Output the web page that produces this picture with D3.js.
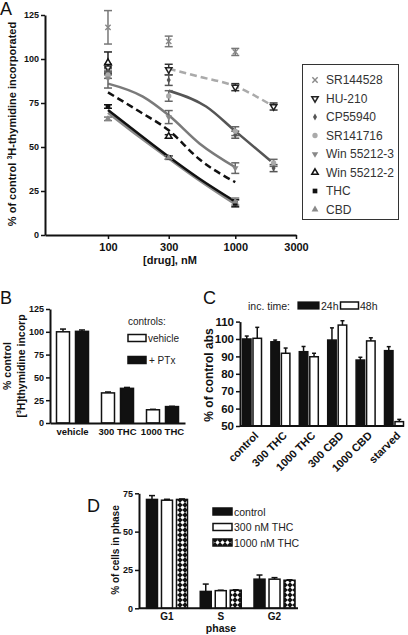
<!DOCTYPE html>
<html><head><meta charset="utf-8">
<script src="https://cdn.jsdelivr.net/npm/d3@7"></script>
<style>body{margin:0;background:#fff} svg{display:block} text{font-family:Arial,"Liberation Sans",sans-serif}</style>
</head><body><svg id="c" width="408" height="635"></svg>
<script>
// ---------- Panel A data ----------
const aNames = ["SR144528","HU-210","CP55940","SR141716","Win 55212-3","Win 55212-2","THC","CBD"];
const aXTicks = [100,300,1000,3000];
const aYTicks = [0,25,50,75,100,125];
const srDose=[100,300,1000], srVal=[118,110,104], srErr=[9.5,3,2];
const huDose=[100,300,1000,2000], huVal=[95,94,84,73], huErr=[2,3,2,2];
const cpDose=[100,300,1000,2000], cpVal=[93,88,57,38], cpErr=[2,3,2,2];
const s17Dose=[100,300,1000,2000], s17Val=[91,79,59,41], s17Err=[2,3,2.5,2];
const w3Dose=[100,300,1000], w3Val=[89,67,38], w3Err=[5.5,3.7,3];
const w2Dose=[100,300], w2Val=[98,56], w2Err=[6,1];
const thcDose=[100,300,1000], thcVal=[73,44,18], thcErr=[1,1,2];
const cbdDose=[100,300,1000], cbdVal=[66,44,19], cbdErr=[1,1,2];
// fitted curves [dose, value]
const huCurve=[[300,94.5],[520,90],[1000,84.5],[1900,74]];
const s17Curve=[[300,82],[590,73],[1000,59],[1900,42]];
const w3Curve=[[100,86],[188,78.6],[300,68],[523,52],[1000,38.5]];
const w2Curve=[[100,81],[178,70],[300,59.5],[523,43],[1000,30]];
const thcCurve=[[100,71],[178,57],[300,44.5],[523,32],[1000,19]];
const cbdCurve=[[100,69.5],[178,55.5],[300,43.5],[523,31],[1000,17.5]];

// ---------- Panel B data ----------
const bCats=["vehicle","300 THC","1000 THC"];
const bSeries=["vehicle","+ PTx"];
const bVeh=[100,33,14.5], bVehErr=[3,1,0.5];
const bPtx=[100.5,38,18], bPtxErr=[1.5,1,0.3];
const bYTicks=[0,25,50,75,100,125];

// ---------- Panel C data ----------
const cCats=["control","300 THC","1000 THC","300 CBD","1000 CBD","starved"];
const cSeries=["24h","48h"];
const c24=[100,98.4,92.7,99.4,87.9,93.3], c24Err=[1.7,1,3,7,1.6,2.3];
const c48=[100.4,91.8,89.8,108,98.9,52.5], c48Err=[6.3,3,2,2.5,1.8,1.3];
const cYTicks=[50,60,70,80,90,100,110];

// ---------- Panel D data ----------
const dCats=["G1","S","G2"];
const dSeries=["control","300 nM THC","1000 nM THC"];
const dCtrl=[71,11,19], dCtrlErr=[2.5,4.8,2.7];
const d300=[70.5,11.5,19], d300Err=[0.6,0.3,1];
const d1000=[71,11.8,18.3], d1000Err=[0.3,0.3,0.3];
const dYTicks=[0,25,50,75];

const svg=d3.select("#c");
const defs=svg.append("defs");
const pat=defs.append("pattern").attr("id","chk").attr("patternUnits","userSpaceOnUse").attr("width",5).attr("height",5);
pat.append("rect").attr("width",5).attr("height",5).attr("fill","#111");
pat.append("path").attr("d","M2.5,0.3L4.7,2.5L2.5,4.7L0.3,2.5Z").attr("fill","#fff");

function styleAxis(g,fs){
  g.select(".domain").attr("stroke","#111").attr("stroke-width",2);
  g.selectAll(".tick line").attr("stroke","#111").attr("stroke-width",1.5);
  g.selectAll(".tick text").attr("font-size",fs).attr("font-weight","bold").attr("fill","#111").attr("font-family","Arial, 'Liberation Sans', sans-serif");
}
function panelLabel(t,x,y){svg.append("text").attr("x",x).attr("y",y).attr("font-size",18).attr("fill","#111").text(t);}

// ================= Panel A =================
const xA=d3.scaleLog().domain([32,3000]).range([45,296]);
const yA=d3.scaleLinear().domain([0,125]).range([235,15]);
const gAy=svg.append("g").attr("transform","translate(45,0)").call(d3.axisLeft(yA).tickValues(aYTicks).tickSize(4).tickSizeOuter(0).tickPadding(2));
styleAxis(gAy,9);
const gAx=svg.append("g").attr("transform","translate(0,235)").call(d3.axisBottom(xA).tickValues(aXTicks).tickFormat(d3.format("d")).tickSize(4).tickSizeOuter(0).tickPadding(4));
styleAxis(gAx,11);
panelLabel("A",0,15);
svg.append("text").attr("x",170).attr("y",264).attr("text-anchor","middle").attr("font-size",11).attr("font-weight","bold").attr("fill","#111").text("[drug], nM");
const yl=svg.append("text").attr("transform","translate(16,124) rotate(-90)").attr("text-anchor","middle").attr("font-size",11).attr("font-weight","bold").attr("fill","#111");
yl.append("tspan").text("% of control  ");
yl.append("tspan").attr("font-size",7).attr("dy",-4).text("3");
yl.append("tspan").attr("dy",4).text("H-thymidine incorporated");

const line=d3.line().x(d=>xA(d[0])).y(d=>yA(d[1])).curve(d3.curveMonotoneX);
const curves=[
  {d:cbdCurve,c:"#8a8a8a",dash:null},
  {d:thcCurve,c:"#111",dash:null},
  {d:w2Curve,c:"#111",dash:"7,4"},
  {d:w3Curve,c:"#7a7a7a",dash:null},
  {d:s17Curve,c:"#555",dash:null},
  {d:huCurve,c:"#aaa",dash:"7,4"}
];
curves.forEach(k=>{
  svg.append("path").attr("d",line(k.d)).attr("fill","none").attr("stroke",k.c).attr("stroke-width",2.5).attr("stroke-dasharray",k.dash);
});

const aStyle=[
  {dose:srDose,val:srVal,err:srErr,sym:d3.symbolTimes,size:20,fill:"none",stroke:"#888",sw:1.4,rot:0,ec:"#777"},
  {dose:huDose,val:huVal,err:huErr,sym:d3.symbolTriangle,size:18,fill:"#fff",stroke:"#222",sw:1.5,rot:180,ec:"#333"},
  {dose:cpDose,val:cpVal,err:cpErr,sym:d3.symbolDiamond,size:14,fill:"#555",stroke:"none",sw:0,rot:0,ec:"#555"},
  {dose:s17Dose,val:s17Val,err:s17Err,sym:d3.symbolCircle,size:22,fill:"#aaa",stroke:"none",sw:0,rot:0,ec:"#666"},
  {dose:w3Dose,val:w3Val,err:w3Err,sym:d3.symbolTriangle,size:18,fill:"#888",stroke:"none",sw:0,rot:180,ec:"#666"},
  {dose:w2Dose,val:w2Val,err:w2Err,sym:d3.symbolTriangle,size:18,fill:"#fff",stroke:"#111",sw:1.5,rot:0,ec:"#222"},
  {dose:thcDose,val:thcVal,err:thcErr,sym:d3.symbolSquare,size:22,fill:"#111",stroke:"none",sw:0,rot:0,ec:"#111"},
  {dose:cbdDose,val:cbdVal,err:cbdErr,sym:d3.symbolTriangle,size:20,fill:"#8a8a8a",stroke:"none",sw:0,rot:0,ec:"#777"}
];
aStyle.forEach(s=>{
  s.dose.forEach((d,i)=>{
    const x=xA(d), y0=yA(s.val[i]-s.err[i]), y1=yA(s.val[i]+s.err[i]);
    const g=svg.append("g").attr("stroke",s.ec).attr("stroke-width",1.5);
    g.append("line").attr("x1",x).attr("x2",x).attr("y1",y0).attr("y2",y1);
    g.append("line").attr("x1",x-4).attr("x2",x+4).attr("y1",y0).attr("y2",y0);
    g.append("line").attr("x1",x-4).attr("x2",x+4).attr("y1",y1).attr("y2",y1);
  });
});
function drawSym(s,x,y){
  svg.append("path").attr("d",d3.symbol().type(s.sym).size(s.size)())
    .attr("transform",`translate(${x},${y}) rotate(${s.rot})`)
    .attr("fill",s.fill).attr("stroke",s.stroke==="none"?null:s.stroke).attr("stroke-width",s.sw);
}
aStyle.forEach(s=>{ s.dose.forEach((d,i)=>drawSym(s,xA(d),yA(s.val[i]))); });

// legend A
svg.append("rect").attr("x",302.5).attr("y",64.5).attr("width",96).attr("height",155).attr("fill","#fff").attr("stroke","#333").attr("stroke-width",1);
aNames.forEach((n,i)=>{
  const y=80+i*18.5;
  drawSym(aStyle[i],315,y);
  svg.append("text").attr("x",326).attr("y",y+4).attr("font-size",12).attr("fill","#333").text(n);
});

// ================= Panel B =================
panelLabel("B",0,304);
const yB=d3.scaleLinear().domain([0,125]).range([423,309]);
const xB=d3.scaleBand().domain(bCats).range([50,185]);
const iB=d3.scaleBand().domain(bSeries).range([-16,16]).paddingInner(0.316);
const gBy=svg.append("g").attr("transform","translate(50,0)").call(d3.axisLeft(yB).tickValues(bYTicks).tickSize(4).tickSizeOuter(0).tickPadding(2));
styleAxis(gBy,9);
const gBx=svg.append("g").attr("transform","translate(0,423)").call(d3.axisBottom(xB).tickSize(0).tickPadding(5));
styleAxis(gBx,9.5);

function bars(xs,is,ys,cats,vals,errs,key,fill,capW){
  cats.forEach((c,i)=>{
    const x=xs(c)+xs.bandwidth()/2+is(key), w=is.bandwidth();
    const yt=ys(vals[i]), yb=ys.range()[0];
    const ye=ys(vals[i]+errs[i]);
    svg.append("line").attr("x1",x+w/2).attr("x2",x+w/2).attr("y1",yt).attr("y2",ye).attr("stroke","#111").attr("stroke-width",1.5);
    svg.append("line").attr("x1",x+w/2-capW/2).attr("x2",x+w/2+capW/2).attr("y1",ye).attr("y2",ye).attr("stroke","#111").attr("stroke-width",1.5);
    svg.append("rect").attr("x",x).attr("y",yt).attr("width",w).attr("height",yb-yt)
      .attr("fill",fill).attr("stroke","#111").attr("stroke-width",1.5);
  });
}
bars(xB,iB,yB,bCats,bVeh,bVehErr,"vehicle","#fff",6);
bars(xB,iB,yB,bCats,bPtx,bPtxErr,"+ PTx","#111",6);
gBx.raise();
const ylB=svg.append("g").attr("font-size",10.5).attr("font-weight","bold").attr("fill","#111");
ylB.append("text").attr("transform","translate(11,366) rotate(-90)").attr("text-anchor","middle").text("% control");
const t2=ylB.append("text").attr("transform","translate(25,366) rotate(-90)").attr("text-anchor","middle");
t2.append("tspan").text("[");
t2.append("tspan").attr("font-size",7).attr("dy",-4).text("3");
t2.append("tspan").attr("dy",4).text("H]thymidine incorp");
svg.append("text").attr("x",128).attr("y",325).attr("font-size",10).attr("fill","#222").text("controls:");
svg.append("rect").attr("x",128).attr("y",334.5).attr("width",18).attr("height",7).attr("fill","#fff").attr("stroke","#111").attr("stroke-width",1.5);
svg.append("text").attr("x",148).attr("y",342).attr("font-size",10).attr("fill","#222").text(bSeries[0]);
svg.append("rect").attr("x",128).attr("y",356.5).attr("width",18).attr("height",7).attr("fill","#111").attr("stroke","#111").attr("stroke-width",1.5);
svg.append("text").attr("x",149).attr("y",364).attr("font-size",10).attr("fill","#222").text(bSeries[1]);

// ================= Panel C =================
panelLabel("C",203,304);
const yC=d3.scaleLinear().domain([50,110]).range([426,321.6]);
const xC=d3.scaleBand().domain(cCats).range([237.8,408.2]);
const iC=d3.scaleBand().domain(cSeries).range([-9.5,9.5]).paddingInner(0.19);
bars(xC,iC,yC,cCats,c24,c24Err,"24h","#111",4);
bars(xC,iC,yC,cCats,c48,c48Err,"48h","#fff",4);
const gCy=svg.append("g").attr("transform","translate(240,0)").call(d3.axisLeft(yC).tickValues(cYTicks).tickSize(4).tickSizeOuter(0).tickPadding(2));
styleAxis(gCy,11.5);
const gCx=svg.append("g").attr("transform","translate(0,426)").call(d3.axisBottom(xC).tickSize(0).tickPadding(6));
styleAxis(gCx,11);
gCx.select(".domain").attr("d","M240,0H404");
gCx.selectAll(".tick text").attr("text-anchor","end").attr("dy",null).attr("transform","translate(3,6) rotate(-45)");
svg.append("text").attr("transform","translate(213,375) rotate(-90)").attr("text-anchor","middle").attr("font-size",12).attr("font-weight","bold").attr("fill","#111").text("% of control abs");
svg.append("text").attr("x",248).attr("y",309.5).attr("font-size",10.5).attr("fill","#222").text("inc. time:");
svg.append("rect").attr("x",298).attr("y",302).attr("width",21).attr("height",7).attr("fill","#111").attr("stroke","#111").attr("stroke-width",1.2);
svg.append("text").attr("x",321).attr("y",309.5).attr("font-size",10.5).attr("fill","#222").text(cSeries[0]);
svg.append("rect").attr("x",340.5).attr("y",302).attr("width",18).attr("height",7).attr("fill","#fff").attr("stroke","#111").attr("stroke-width",1.5);
svg.append("text").attr("x",360).attr("y",309.5).attr("font-size",10.5).attr("fill","#222").text(cSeries[1]);

// ================= Panel D =================
panelLabel("D",87,512);
const yD=d3.scaleLinear().domain([0,75]).range([608.3,493.3]);
const xD=d3.scaleBand().domain(dCats).range([140.1,301.4]);
const iD=d3.scaleBand().domain(dSeries).range([-20.5,20.5]).paddingInner(0.267);
bars(xD,iD,yD,dCats,dCtrl,dCtrlErr,"control","#111",6);
bars(xD,iD,yD,dCats,d300,d300Err,"300 nM THC","#fff",6);
bars(xD,iD,yD,dCats,d1000,d1000Err,"1000 nM THC","url(#chk)",6);
const gDy=svg.append("g").attr("transform","translate(139,0)").call(d3.axisLeft(yD).tickValues(dYTicks).tickSize(4).tickSizeOuter(0).tickPadding(2));
styleAxis(gDy,9);
const gDx=svg.append("g").attr("transform","translate(0,608.3)").call(d3.axisBottom(xD).tickSize(0).tickPadding(5));
styleAxis(gDx,10);
gDx.select(".domain").attr("d","M139,0H298");
svg.append("text").attr("x",221).attr("y",632).attr("text-anchor","middle").attr("font-size",10.5).attr("font-weight","bold").attr("fill","#111").text("phase");
svg.append("text").attr("transform","translate(119,550) rotate(-90)").attr("text-anchor","middle").attr("font-size",10).attr("font-weight","bold").attr("fill","#111").text("% of cells in phase");
const dFills=["#111","#fff","url(#chk)"];
dSeries.forEach((s,i)=>{
  const y=508+i*15.5;
  svg.append("rect").attr("x",213).attr("y",y).attr("width",19).attr("height",7).attr("fill",dFills[i]).attr("stroke","#111").attr("stroke-width",1.5);
  svg.append("text").attr("x",234).attr("y",y+7.5).attr("font-size",10.5).attr("fill","#222").text(s);
});
</script></body></html>
